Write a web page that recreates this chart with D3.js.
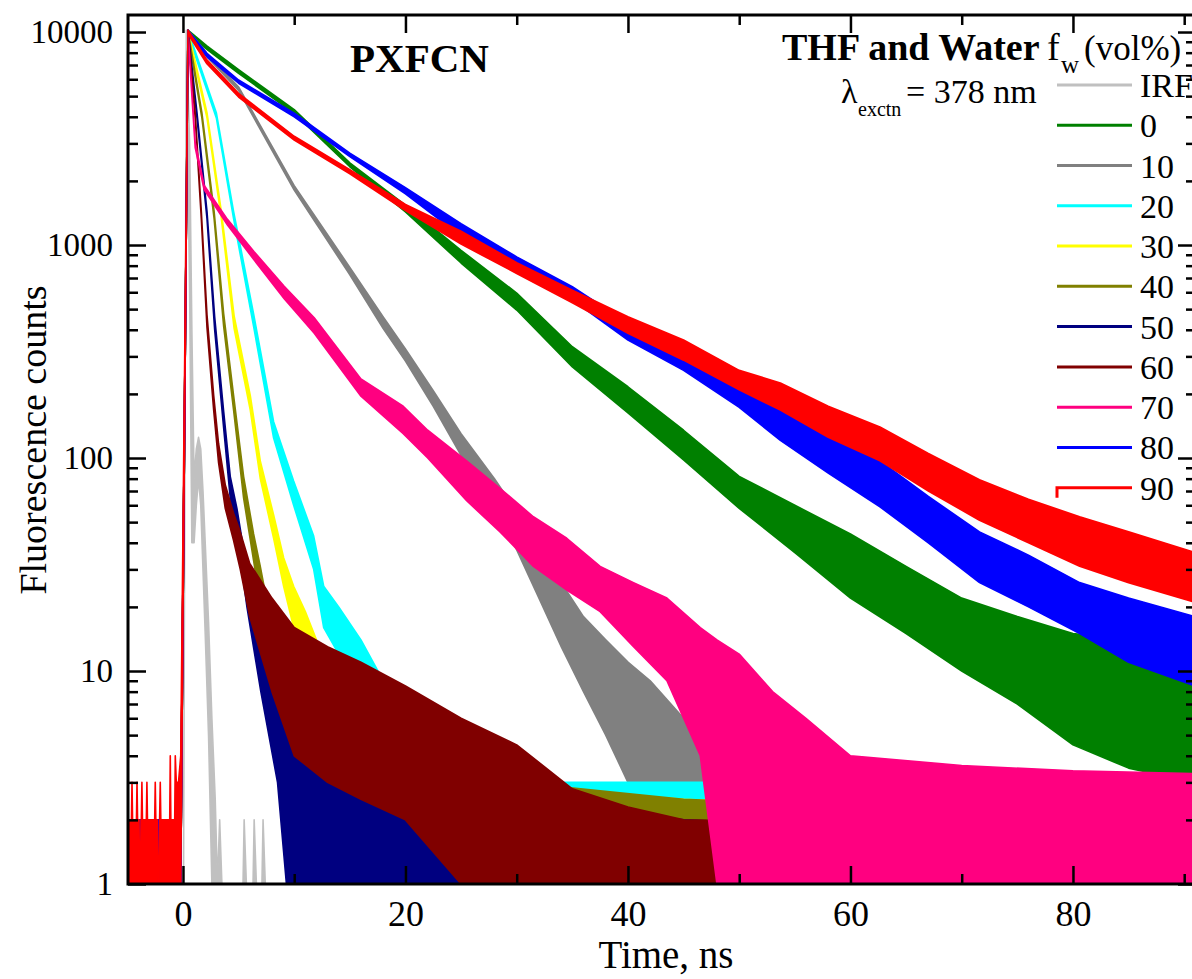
<!DOCTYPE html>
<html>
<head>
<meta charset="utf-8">
<script src="https://cdn.jsdelivr.net/npm/d3@7"></script>
<style>
  body { margin: 0; background: #fff; }
  text { font-family: "Liberation Serif", "Times New Roman", Times, serif; fill: #000; }
</style>
</head>
<body>
<script>
// each row: [time ns, low count, high count]
const irf = [[-4.94,1,1],[0.05,1,1],[0.3,9500,10200],[0.6,600,3000],[0.8,40,400],[1.0,40,80],[1.2,60,110],
  [1.4,80,125],[1.6,60,110],[1.8,30,70],[2.0,15,40],[2.3,5,17],[2.6,1,6],[2.9,1,2.5],[3.1,1,1],[3.3,1,2],[3.5,1,1],
  [5.4,1,1],[5.5,1,2],[5.7,1,1],[6.3,1,1],[6.4,1,2],[6.6,1,1],[7.1,1,1],[7.2,1,2],[7.4,1,1],[91,1,1]];

const fw0 = [[-4.94,1,2],[-0.2,1,2],[0.45,9800,10200],[2.15,8300,8600],[5,6400,6650],[10,4150,4320],[15,2330,2430],
  [20,1430,1540],[25,823,944],[30,495,595],[35,268,333],[40,163,216],[45,98,135],[50,58,82],[55,36,60],[60,22,44],
  [65,15,31],[70,10,22],[75,7,18],[80,4.5,15],[85,3.5,14],[91,3,13]];

const fw10 = [[-4.94,1,2],[-0.2,1,2],[0.45,9800,10200],[2.15,7650,7950],[5,5320,5520],[10,1810,1900],[15,725,785],
  [18,405,460],[20,285,325],[22.5,175,207],[25,103,130],[28,58,80],[30,37,56],[32,22,37],[34,13,26],[36,8,18],
  [38,5,14],[40,3,11],[42,1.5,9],[45,1,6],[48,1,4],[52,1,3.5],[60,1,3],[91,1,3]];

const fw20 = [[-4.94,1,2],[-0.2,1,2],[0.45,9800,10200],[3.0,3950,4180],[4.55,1330,1440],[6.35,415,475],[8.15,124,148],
  [9.95,60,78],[11.75,30,43],[12.65,16,25],[14,12,20],[16,8,14],[18,4,9],[20,2,6],[23,1,4],[28,1,3],[50,1,3],[91,1,2.5]];

const fw30 = [[-4.94,1,2],[-0.2,1,2],[0.45,9800,10200],[2.16,3950,4180],[3.45,1330,1440],[4.6,405,465],[6.05,168,197],
  [6.95,80,97],[8.15,42,54],[9.05,25,34],[9.95,16,25],[11,11,19],[12,7,14],[13,5,11],[15,2.5,7],[17,1.5,5],[20,1,4],
  [25,1,3],[45,1,2.5],[91,1,2]];

const fw40 = [[-4.94,1,2],[-0.2,1,2],[0.45,9800,10200],[1.7,3950,4180],[2.8,1330,1440],[3.66,415,475],[4.55,168,197],
  [5.45,65,82],[6.35,33,44],[6.95,21,31],[8,9,16],[9,5,10],[10,2,7],[12,1,5],[15,1,4],[22,1,3.5],[30,1,3],[45,1,2.5],[91,1,2]];

const fw50 = [[-4.94,1,2],[-0.2,1,2],[0.45,9800,10200],[1.26,3950,4180],[2.16,1330,1440],[2.85,400,460],[3.66,138,165],
  [4.25,65,82],[4.85,45,58],[5.75,20,30],[7,8,18],[8.5,3,10],[9.3,1,6],[11,1,4],[15,1,3],[30,1,2.5],[45,1,2],[91,1,1.6]];

const fw60 = [[-4.94,1,2],[-0.2,1,2],[0.45,9800,10200],[1.1,3950,4180],[1.65,1330,1440],[2.16,410,470],[2.76,168,197],
  [3.2,95,117],[3.8,58,75],[4.55,41,55],[5.15,30,45],[6,18,32],[8,8,22],[10,4,16],[13,3,13],[16,2.5,11],[20,2,8.5],
  [25,1,6],[30,1,4.5],[35,1,2.8],[40,1,2.3],[45,1,2],[91,1,1.8]];

const fw70 = [[-4.94,1,2],[-0.2,1,2],[0.45,9800,10200],[1.1,2870,3030],[1.9,1820,1910],[4,1240,1320],[6.4,850,930],
  [9.1,560,640],[11.8,385,455],[16,195,235],[19.8,130,175],[22,100,135],[25.5,63,97],[28.5,45,72],[31.5,31,53],
  [34.5,24,42],[37.5,19,31],[40.5,13,26],[43.5,9,22],[46.5,4,16],[48,1,14],[50,1,12],[53,1,8],[56,1,6],[60,1,4],
  [70,1,3.6],[80,1,3.4],[91,1,3.3]];

const fw80 = [[-4.94,1,2],[-0.2,1,2],[0.45,9800,10200],[2.15,7650,7950],[5,5750,5950],[10,4000,4160],[15,2600,2700],
  [20,1740,1860],[25,1100,1260],[30,760,880],[35,553,637],[40,358,430],[45,258,321],[50,173,216],[53.7,121,168],
  [58,85,125],[62.65,59,97],[67,40,66],[71.6,26,45],[76,20,35],[80.6,15,26],[85,11,22],[91,8.5,18]];

const fw90 = [[-4.94,1,2],[-4.63,1,2],[-4.58,1,3],[-4.53,1,2],[-4.18,1,2],[-4.13,1,3],[-4.08,1,2],[-3.95,1,2],[-3.9,1,1],
  [-3.82,1,1],[-3.77,1,2],[-3.74,1,2],[-3.69,1,3],[-3.64,1,2],[-3.29,1,2],[-3.24,1,3],[-3.19,1,2],[-2.54,1,2],[-2.49,1,3],
  [-2.44,1,2],[-2.3,1,2],[-2.25,1,1],[-2.15,1,1],[-2.1,1,2],[-2.04,1,3],[-1.99,1,2],[-1.19,1,2],[-1.14,1,4],[-1.09,1,2],
  [-0.74,1,2],[-0.69,1,4],[-0.6,1,3],[-0.4,1,3],[-0.2,1,4],[0.45,9800,10200],[2.15,7100,7400],[5,4950,5150],
  [10,3110,3240],[15,2160,2260],[20,1450,1550],[25,1010,1160],[30,735,826],[35,535,613],[40,385,460],[45,288,358],
  [50,209,258],[53.7,168,225],[58,125,175],[62.65,97,140],[67,70,105],[71.6,51,79],[76,40,64],[80.6,31,53],[85,26,45],
  [91,21,36]];

const seriesData = [irf, fw0, fw10, fw20, fw30, fw40, fw50, fw60, fw70, fw80, fw90];
const seriesNames = ["IRF", "0", "10", "20", "30", "40", "50", "60", "70", "80", "90"];
const seriesColors = ["#c0c0c0", "#008000", "#808080", "#00ffff", "#ffff00", "#808000",
  "#000080", "#800000", "#ff0080", "#0000ff", "#ff0000"];

const xMajor = [0, 20, 40, 60, 80];
const xMinor = [10, 30, 50, 70, 90];
const yMajor = [1, 10, 100, 1000, 10000];

const width = 1192, height = 979;
const plotLeft = 128, plotRight = 1196, plotTop = 15, plotBottom = 884;
const serif = '"Liberation Serif", "Times New Roman", Times, serif';

const svg = d3.select("body").append("svg")
  .attr("width", width)
  .attr("height", height);

svg.append("rect").attr("width", width).attr("height", height).attr("fill", "#fff");

// scales
const x = d3.scaleLinear().domain([-4.94, 91.06]).range([plotLeft, plotRight]);
const y = d3.scaleLog().domain([1, 12020]).range([plotBottom, plotTop]);

svg.append("clipPath").attr("id", "plot")
  .append("rect").attr("x", plotLeft).attr("y", plotTop)
  .attr("width", plotRight - plotLeft).attr("height", plotBottom - plotTop);

const area = d3.area()
  .x(d => x(d[0]))
  .y0(d => y(d[1]))
  .y1(d => y(d[2]));

// draw curves in legend order so the later ones sit on top
const g = svg.append("g").attr("clip-path", "url(#plot)");
seriesData.forEach((s, i) => {
  g.append("path")
    .datum(s)
    .attr("d", area)
    .attr("fill", seriesColors[i])
    .attr("stroke", seriesColors[i])
    .attr("stroke-width", 1.6)
    .attr("stroke-linejoin", "round");
});

// minor log ticks
const yMinor = [];
for (let p = 0; p < 4; p++) for (let k = 2; k < 10; k++) yMinor.push(k * Math.pow(10, p));

function styleAxis(sel) {
  sel.select(".domain").remove();
  sel.attr("font-family", serif);
  sel.selectAll("line").attr("stroke", "#000").attr("stroke-width", 2.5);
  sel.selectAll("text").style("font-family", serif).attr("fill", "#000");
}

// y axes
svg.append("g").attr("transform", `translate(${plotLeft},0)`)
  .call(d3.axisLeft(y).tickValues(yMajor).tickFormat(d3.format("d")).tickSize(-18).tickPadding(15))
  .call(styleAxis)
  .selectAll("text").style("font-size", "33px");
svg.append("g").attr("transform", `translate(${plotLeft},0)`)
  .call(d3.axisLeft(y).tickValues(yMinor).tickFormat("").tickSize(-10))
  .call(styleAxis);
svg.append("g").attr("transform", `translate(${plotRight},0)`)
  .call(d3.axisRight(y).tickValues(yMajor).tickFormat("").tickSize(-18))
  .call(styleAxis);
svg.append("g").attr("transform", `translate(${plotRight},0)`)
  .call(d3.axisRight(y).tickValues(yMinor).tickFormat("").tickSize(-10))
  .call(styleAxis);

// x axes
svg.append("g").attr("transform", `translate(0,${plotBottom})`)
  .call(d3.axisBottom(x).tickValues(xMajor).tickFormat(d3.format("d")).tickSize(-18).tickPadding(16))
  .call(styleAxis)
  .selectAll("text").style("font-size", "36px");
svg.append("g").attr("transform", `translate(0,${plotBottom})`)
  .call(d3.axisBottom(x).tickValues(xMinor).tickFormat("").tickSize(-10))
  .call(styleAxis);
svg.append("g").attr("transform", `translate(0,${plotTop})`)
  .call(d3.axisTop(x).tickValues(xMajor).tickFormat("").tickSize(-18))
  .call(styleAxis);
svg.append("g").attr("transform", `translate(0,${plotTop})`)
  .call(d3.axisTop(x).tickValues(xMinor).tickFormat("").tickSize(-10))
  .call(styleAxis);

// frame
svg.append("rect")
  .attr("x", plotLeft).attr("y", plotTop)
  .attr("width", plotRight - plotLeft).attr("height", plotBottom - plotTop)
  .attr("fill", "none").attr("stroke", "#000").attr("stroke-width", 3);

// axis titles
svg.append("text")
  .attr("transform", "translate(46,440) rotate(-90)")
  .attr("text-anchor", "middle")
  .style("font-size", "38px")
  .text("Fluorescence counts");

svg.append("text")
  .attr("x", 666).attr("y", 968)
  .attr("text-anchor", "middle")
  .style("font-size", "39px")
  .text("Time, ns");

// annotations
svg.append("text").attr("x", 350).attr("y", 72)
  .style("font-size", "41px").style("font-weight", "bold").text("PXFCN");

const head = svg.append("text").attr("y", 60);
head.append("tspan").attr("x", 782).style("font-size", "38px").style("font-weight", "bold").text("THF and Water");
head.append("tspan").attr("x", 1047).style("font-size", "38px").text("f");
head.append("tspan").attr("x", 1061).attr("dy", 13).style("font-size", "25px").text("w");
head.append("tspan").attr("x", 1084).attr("dy", -13).style("font-size", "35px").text("(vol%)");

const exc = svg.append("text").attr("y", 103);
exc.append("tspan").attr("x", 841).style("font-size", "34px").text("λ");
exc.append("tspan").attr("x", 858).attr("dy", 13).style("font-size", "20px").text("exctn");
exc.append("tspan").attr("x", 906).attr("dy", -13).style("font-size", "34px").text("= 378 nm");

// legend
const legY = d3.scaleLinear().domain([0, seriesNames.length - 1]).range([85, 487.7]);
const leg = svg.append("g");
seriesNames.forEach((name, i) => {
  const ly = legY(i);
  leg.append("path")
    .attr("d", i === seriesNames.length - 1
      ? `M1057,${ly + 10}V${ly}H1132`
      : `M1057,${ly}H1132`)
    .attr("fill", "none")
    .attr("stroke", seriesColors[i])
    .attr("stroke-width", 3);
  leg.append("text")
    .attr("x", 1140).attr("y", ly + 12)
    .style("font-size", "34px")
    .text(name);
});
</script>
</body>
</html>
